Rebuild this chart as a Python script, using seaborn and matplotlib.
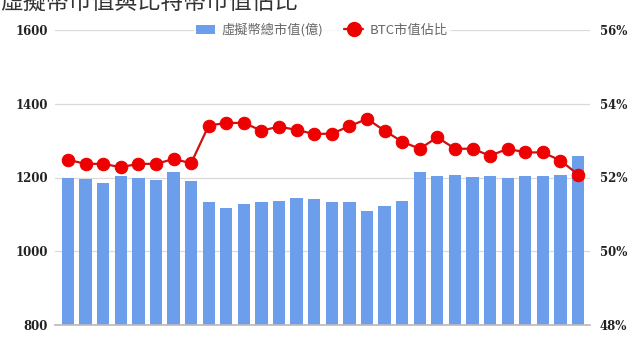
import matplotlib
matplotlib.use("Agg")
import matplotlib.pyplot as plt
import seaborn as sns
import numpy as np
from matplotlib.lines import Line2D
from matplotlib.patches import Patch

sns.set_theme(style="white")
plt.rcParams['font.family'] = ['Noto Sans CJK TC', 'DejaVu Sans']

title = "虛擬幣市值與比特幣市值佔比"
bar_label = "虛擬幣總市值(億)"
line_label = "BTC市值佔比"

periods = [str(i + 1) for i in range(30)]
total_cap = [1200, 1196, 1186, 1204, 1198, 1192, 1214, 1190, 1134, 1118,
             1127, 1133, 1136, 1145, 1141, 1133, 1133, 1110, 1123, 1137,
             1215, 1205, 1208, 1201, 1205, 1198, 1205, 1205, 1207, 1258]
btc_share = [52.48, 52.37, 52.37, 52.28, 52.37, 52.37, 52.50, 52.39, 53.41, 53.48,
             53.48, 53.27, 53.38, 53.29, 53.18, 53.19, 53.39, 53.59, 53.27, 52.97,
             52.78, 53.09, 52.78, 52.78, 52.59, 52.78, 52.68, 52.68, 52.46, 52.08]

W, H = 640, 337
fig = plt.figure(figsize=(W / 100, H / 100), dpi=100)
ax = fig.add_axes([55 / W, 1 - 325 / H, 535 / W, 295 / H])

bar_color = "#6d9eeb"
sns.barplot(x=periods, y=total_cap, ax=ax, color=bar_color, width=0.7,
            saturation=1, edgecolor="none")
ax.set_ylim(800, 1600)
ax.set_xlim(-0.74, 29.68)
ax.set_yticks([800, 1000, 1200, 1400, 1600])
ax.set_yticklabels(["800", "1000", "1200", "1400", "1600"])
ax.grid(axis="y", color="#d9d9d9", linewidth=0.9)
ax.set_axisbelow(True)
ax.set_xticks([])
for s in ["top", "right", "left"]:
    ax.spines[s].set_visible(False)
ax.spines["bottom"].set_color("#bbbbbb")
ax.tick_params(axis="y", length=0, pad=5)
for t in ax.get_yticklabels():
    t.set_family("DejaVu Serif")
    t.set_fontweight("bold")
    t.set_fontsize(8.5)
    t.set_color("#222222")
ax.set_xlabel("")
ax.set_ylabel("")

ax2 = ax.twinx()
xs = np.arange(len(btc_share))
sns.lineplot(x=xs, y=btc_share, ax=ax2, color="#cc1111", linewidth=1.6,
             marker="o", markersize=9, markerfacecolor="#ee0000",
             markeredgecolor="#ee0000")
ax2.set_ylim(48, 56)
ax2.set_xlim(-0.74, 29.68)
ax2.set_yticks([48, 50, 52, 54, 56])
ax2.set_yticklabels(["48%", "50%", "52%", "54%", "56%"])
for s in ["top", "right", "left", "bottom"]:
    ax2.spines[s].set_visible(False)
ax2.tick_params(axis="y", length=0, pad=7)
for t in ax2.get_yticklabels():
    t.set_family("DejaVu Serif")
    t.set_fontweight("bold")
    t.set_fontsize(8.5)
    t.set_color("#222222")
ax2.grid(False)
ax2.set_ylabel("")

handles = [Patch(facecolor=bar_color, edgecolor="none", label=bar_label),
           Line2D([], [], color="#cc1111", marker="o", markersize=10,
                  markerfacecolor="#ee0000", markeredgecolor="#ee0000",
                  linewidth=1.6, label=line_label)]
leg = fig.legend(handles=handles, loc="center", bbox_to_anchor=(322 / W, 1 - 30 / H),
                 ncol=2, frameon=True, fontsize=9.5, handlelength=1.4,
                 handleheight=0.7, columnspacing=1.6, borderpad=0.2,
                 handletextpad=0.5)
leg.get_frame().set_facecolor("white")
leg.get_frame().set_edgecolor("white")
for t in leg.get_texts():
    t.set_color("#666666")

fig.text(0.0, 1 - 2 / H, title, fontsize=16.5, color="#333333", va="center", ha="left")

fig.savefig("out.png", dpi=100)
